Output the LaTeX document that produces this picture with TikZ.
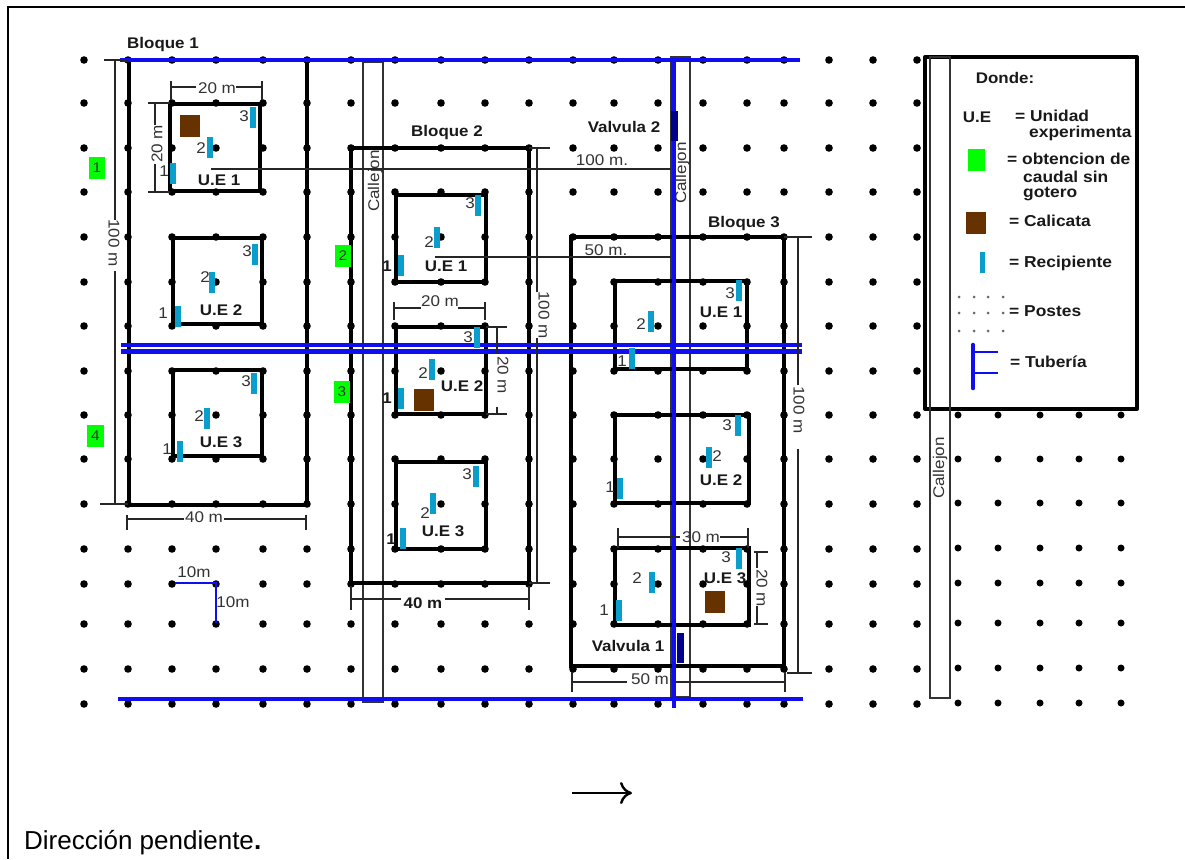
\documentclass[tikz,border=0pt]{standalone}
\usepackage{fontspec}
\setmainfont{Liberation Sans}[FakeStretch=1.1]
\newfontfamily\dirfont{Liberation Sans}
\usetikzlibrary{arrows.meta}
\definecolor{tuberia}{RGB}{14,14,240}
\definecolor{recip}{RGB}{10,158,204}
\definecolor{calicata}{RGB}{102,51,0}
\definecolor{valvula}{RGB}{0,0,140}
\definecolor{verde}{RGB}{0,255,0}
\tikzset{
  poste/.style={circle,fill=black,inner sep=0pt,minimum size=7.6pt},
  posteleg/.style={circle,fill=black!60,inner sep=0pt,minimum size=3pt},
  bloque/.style={draw=black,line width=3.8pt,line cap=round},
  unidad/.style={draw=black,line width=3.2pt,line cap=round},
  tubo/.style={draw=tuberia,line width=4.6pt},
  cota/.style={draw=black!85,line width=1.2pt},
  callejon/.style={draw=black!80,line width=1.2pt},
  recipiente/.style={fill=recip,inner sep=0pt,minimum width=5.2pt,minimum height=21pt},
  calic/.style={fill=calicata,inner sep=0pt,minimum width=20pt,minimum height=22pt},
  valv/.style={fill=valvula,inner sep=0pt,minimum width=7.6pt,minimum height=30pt},
  cuadro/.style={fill=verde,text=black!80,inner sep=0pt,minimum width=16.5pt,minimum height=22pt,font=\fontsize{14}{16}\selectfont},
  txt/.style={inner sep=0pt,text=black!80,font=\fontsize{15.5}{17}\selectfont},
  neg/.style={inner sep=0pt,text=black!90,font=\fontsize{15.4}{17}\selectfont\bfseries},
  leg/.style={inner sep=0pt,anchor=west,text=black!90,font=\fontsize{15.8}{17}\selectfont\bfseries},
}
\begin{document}
\begin{tikzpicture}[x=1pt,y=-1pt]
  \fill[white] (0,0) rectangle (1185,859);
  \useasboundingbox (0,0) rectangle (1185,859);
  \draw[line width=2.2pt] (8,859) -- (8,7) -- (1185,7);
  % postes
  \foreach \x in {84,128,172,216,263,307,351,395,441,485,529,573,614,658,703,747,784,829,873,917}
    \foreach \y in {60,103,148,192,237,282,326,371,415,459,504,549,584,624,669,704}
      \node[poste] (p\x-\y) at (\x,\y) {};
  \foreach \x in {958,998,1040,1079,1121}
    \foreach \y in {415,459,503,548,583,623,668,703}
      \node[poste,minimum size=7pt] (p\x-\y) at (\x,\y) {};
  % callejones
  \draw[callejon] (363,62) rectangle (383,702);
  \draw[callejon] (671,57) rectangle (690,697);
  \node[txt,rotate=90] (c1) at (375,181) {Callejon};
  \node[txt,rotate=90] (c2) at (682,173) {Callejon};
  % bloques
  \draw[bloque] (129,60) rectangle (307,505);
  \draw[bloque] (351,148) rectangle (529,583);
  \draw[bloque] (571,237) rectangle (784,666);
  \foreach \a/\b/\c/\d in {170/104/260/191,173/238/262/324,173/370/262/456,
      396/195/486/282,396/327/486/414,396/462/486/549,
      615/281/747/369,615/415/749/503,615/548/749/625}
    \draw[unidad] (\a,\b) rectangle (\c,\d);
  % lineas 100 m. y 50 m.
  \draw[cota,line width=1.5pt] (211,169) -- (671,169);
  \draw[cota,line width=1.5pt] (435,257) -- (671,257);
  \node[txt] (l100) at (602,160) {100 m.};
  \node[txt] (l50) at (606,250) {50 m.};
  % tuberia
  \draw[tubo] (120,60) -- (800,60);
  \draw[tubo] (121,345) -- (802,345);
  \draw[tubo] (121,351.5) -- (802,351.5);
  \draw[tubo] (118,699) -- (803,699);
  \draw[tubo] (674,60) -- (674,708);
  \draw[tubo,line width=5.6pt] (673.5,60) -- (673.5,112);
  \node[valv] (v2) at (674.5,126) {};
  \node[valv,minimum width=7pt] (v1) at (680,647.5) {};
  % cotas bloque 1
  \draw[cota] (104,60) -- (128,60) (115,60) -- (115,220) (115,271) -- (115,504) (100,504) -- (128,504);
  \draw[cota] (127,515) -- (127,530) (127,519) -- (184,519) (224,519) -- (306,519) (306,515) -- (306,530);
  \draw[cota] (171,81) -- (171,100) (171,87) -- (196,87) (236,87) -- (262,87) (262,81) -- (262,100);
  \draw[cota] (148,103) -- (170,103) (155,103) -- (155,125) (155,164) -- (155,192) (148,192) -- (170,192);
  \node[txt,rotate=-90] (d100a) at (114,243) {100 m};
  \node[txt] (d40a) at (204,517) {40 m};
  \node[txt] (d20a) at (217,88) {20 m};
  \node[txt,rotate=90] (d20b) at (157,144) {20 m};
  % cotas bloque 2
  \draw[cota] (529,148) -- (550,148) (537,148) -- (537,292) (537,338) -- (537,583) (529,583) -- (550,583);
  \draw[cota] (351,586) -- (351,610) (351,599) -- (401,599) (445,599) -- (529,599) (529,586) -- (529,610);
  \draw[cota] (394,302) -- (394,320) (394,308) -- (421,308) (458,308) -- (485,308) (485,302) -- (485,320);
  \draw[cota] (486,327) -- (507,327) (497,327) -- (497,353) (497,407) -- (497,414) (486,414) -- (507,414);
  \node[txt,rotate=-90] (d100b) at (544,315) {100 m};
  \node[neg] (d40b) at (423,603) {40 m};
  \node[txt] (d20c) at (440,301) {20 m};
  \node[txt,rotate=-90] (d20d) at (503,375) {20 m};
  % cotas bloque 3
  \draw[cota] (784,237) -- (812,237) (798,237) -- (798,385) (798,449) -- (798,673) (787,673) -- (812,673);
  \draw[cota] (572,672) -- (572,692) (572,682) -- (627,682) (676,682) -- (785,682) (785,672) -- (785,692);
  \draw[cota] (618,528) -- (618,548) (618,537) -- (680,537) (720,537) -- (748,537) (748,528) -- (748,548);
  \draw[cota] (754,552) -- (768,552) (757,552) -- (757,568) (757,606) -- (757,624) (754,624) -- (768,624);
  \node[txt,rotate=-90] (d100c) at (799,410) {100 m};
  \node[txt] (d50a) at (650,679) {50 m};
  \node[txt] (d30a) at (701,537) {30 m};
  \node[txt,rotate=-90] (d20e) at (762,588) {20 m};
  % 10 m
  \draw[tuberia,line width=1.1pt] (175,583) -- (216,583) -- (216,623);
  \node[txt] (m10a) at (194,572) {10m};
  \node[txt] (m10b) at (233,602) {10m};
  % bloques, valvulas
  \node[neg] (b1) at (163,45) {Bloque 1};
  \node[neg] (b2) at (447,133) {Bloque 2};
  \node[neg] (b3) at (744,224) {Bloque 3};
  \node[neg] (t2) at (624,127) {Valvula 2};
  \node[neg] (t1) at (628,646) {Valvula 1};
  % unidades
  \foreach \x/\y/\t in {219/180/U.E 1,221/310/U.E 2,221/442/U.E 3,446/266/U.E 1,462/386/U.E 2,
      443/531/U.E 3,721/312/U.E 1,721/480/U.E 2,725/578/U.E 3}
    \node[neg] (u\x-\y) at (\x,\y) {\t};
  % calicatas
  \node[calic] (k1) at (190,125.5) {};
  \node[calic] (k2) at (424,399.5) {};
  \node[calic] (k3) at (715,602) {};
  % recipientes
  \foreach \x/\y in {173/173,210/147,253/117,178/316,212/282,255/254,180/451,207/418,254/383,
      401/265,437/237,478/205,401/398,432/369,477/337,403/538,433/503,476/476,
      632/358,651/321,739/290,620/488,709/457,738/425,619/610,652/582,739/558}
    \node[recipiente] (r\x-\y) at (\x,\y) {};
  % numeros
  \foreach \x/\y/\t in {164/171/1,201/148/2,244/116/3,163/313/1,205/277/2,247/251/3,167/449/1,199/416/2,246/381/3,
      429/242/2,470/203/3,423/373/2,468/337/3,425/513/2,467/474/3,
      622/361/1,641/324/2,730/293/3,610/487/1,717/456/2,727/425/3,604/610/1,637/578/2,726/557/3}
    \node[txt] (n\x-\y) at (\x,\y) {\t};
  \foreach \x/\y in {387/266,387/398,391/539}
    \node[neg] (n\x-\y) at (\x,\y) {1};
  % cuadros verdes
  \node[cuadro] (g1) at (97,167.5) {1};
  \node[cuadro] (g2) at (343,255.5) {2};
  \node[cuadro] (g3) at (342,392) {3};
  \node[cuadro] (g4) at (95.5,436) {4};
  % leyenda
  \draw[line width=4pt,fill=white,line join=round] (925,57) rectangle (1137,409);
  \draw[callejon] (930,57) rectangle (950,698);
  \node[txt,rotate=90] (c3) at (940,468) {Callejon};
  \node[neg] (ldonde) at (1005,78) {Donde:};
  \node[neg] (lue) at (977,117) {U.E};
  \node[leg] (l1) at (1015,116) {= Unidad};
  \node[leg] (l1b) at (1029,133) {experimenta};
  \node[cuadro,minimum width=17pt] (lg) at (976.5,160) {};
  \node[leg] (l2) at (1007,159) {= obtencion de};
  \node[leg] (l2b) at (1023,177) {caudal sin};
  \node[leg] (l2c) at (1023,194) {gotero};
  \node[calic] (lk) at (976,222.5) {};
  \node[leg] (l3) at (1009,221) {= Calicata};
  \node[recipiente] (lr) at (982.5,262.5) {};
  \node[leg] (l4) at (1009,263) {= Recipiente};
  \foreach \x in {959,974,988,1003}
    \foreach \y in {297,313,331}
      \node[posteleg] (q\x-\y) at (\x,\y) {};
  \node[leg] (l5) at (1009,311) {= Postes};
  \draw[tubo,line cap=round] (973,345) -- (973,388);
  \draw[tuberia,line width=2.2pt] (973,352) -- (998,352) (973,373) -- (998,373);
  \node[leg] (l6) at (1010,362) {= Tubería};
  % direccion
  \coordinate (da) at (572,793);
  \coordinate (db) at (632,793);
  \draw[-{Computer Modern Rightarrow[length=12pt,width=22pt,line width=2.4pt]},line width=2.2pt] (da) -- (db);
  \node[inner sep=0pt,anchor=west,font=\dirfont\fontsize{26}{28}\selectfont] (dir) at (24,843) {Dirección pendiente{\bfseries .}};
\end{tikzpicture}
\end{document}
